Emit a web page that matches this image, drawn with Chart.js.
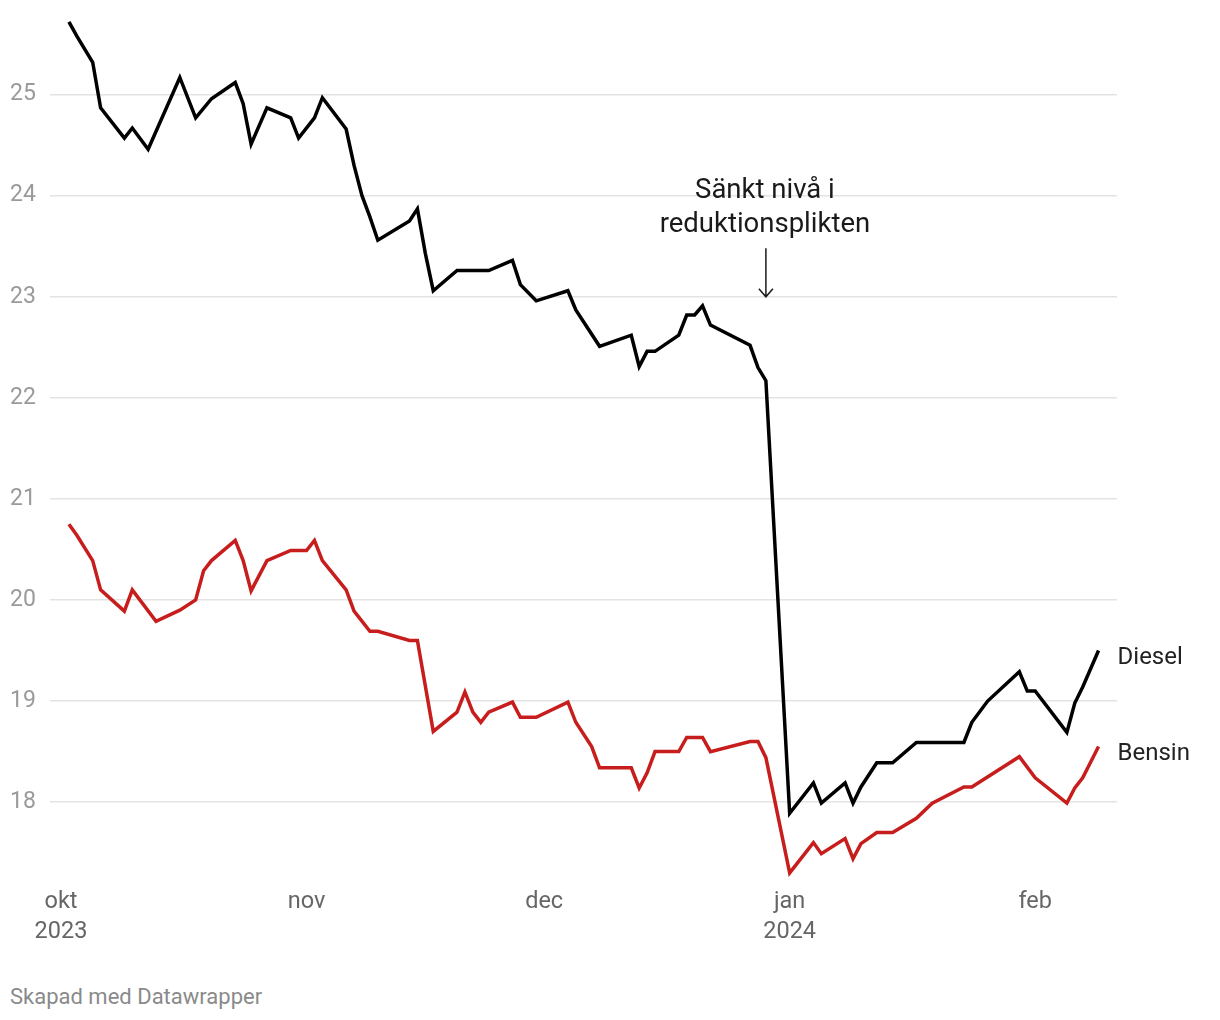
<!DOCTYPE html>
<html>
<head>
<meta charset="utf-8">
<script src="https://cdn.jsdelivr.net/npm/chart.js@4.4.0/dist/chart.umd.min.js"></script>
<style>
  html, body { margin: 0; padding: 0; background: #fff; }
  #wrap { position: relative; width: 1220px; height: 1020px; }
  #footer { position: absolute; left: 10px; top: 984px; font: 22px Roboto, sans-serif; line-height: 26px; color: #8a8a8a; }
</style>
</head>
<body>
<div id="wrap">
  <canvas id="c" width="1220" height="970"></canvas>
  <div id="footer">Skapad med Datawrapper</div>
</div>
<script>
// ---- data ----
const dieselDates = ['2023-10-02','2023-10-03','2023-10-05','2023-10-06','2023-10-09','2023-10-10','2023-10-12','2023-10-16','2023-10-18','2023-10-20','2023-10-23','2023-10-24','2023-10-25','2023-10-27','2023-10-30','2023-10-31','2023-11-02','2023-11-03','2023-11-06','2023-11-07','2023-11-08','2023-11-09','2023-11-10','2023-11-14','2023-11-15','2023-11-16','2023-11-17','2023-11-20','2023-11-24','2023-11-27','2023-11-28','2023-11-30','2023-12-04','2023-12-05','2023-12-08','2023-12-12','2023-12-13','2023-12-14','2023-12-15','2023-12-18','2023-12-19','2023-12-20','2023-12-21','2023-12-22','2023-12-27','2023-12-28','2023-12-29','2024-01-01','2024-01-04','2024-01-05','2024-01-08','2024-01-09','2024-01-10','2024-01-12','2024-01-14','2024-01-17','2024-01-23','2024-01-24','2024-01-26','2024-01-30','2024-01-31','2024-02-01','2024-02-05','2024-02-06','2024-02-07','2024-02-09'];
const dieselValues = [25.72,25.58,25.32,24.87,24.57,24.67,24.46,25.17,24.77,24.96,25.12,24.91,24.51,24.87,24.77,24.57,24.77,24.97,24.66,24.30,24.00,23.79,23.56,23.75,23.87,23.43,23.06,23.26,23.26,23.36,23.12,22.96,23.06,22.87,22.51,22.62,22.31,22.46,22.46,22.62,22.82,22.82,22.91,22.72,22.52,22.30,22.17,17.89,18.19,17.99,18.19,17.99,18.15,18.39,18.39,18.59,18.59,18.79,19.00,19.29,19.10,19.10,18.69,18.98,19.14,19.50];

const bensinDates = ['2023-10-02','2023-10-03','2023-10-05','2023-10-06','2023-10-09','2023-10-10','2023-10-13','2023-10-16','2023-10-18','2023-10-19','2023-10-20','2023-10-23','2023-10-24','2023-10-25','2023-10-27','2023-10-30','2023-11-01','2023-11-02','2023-11-03','2023-11-06','2023-11-07','2023-11-09','2023-11-10','2023-11-14','2023-11-15','2023-11-17','2023-11-20','2023-11-21','2023-11-22','2023-11-23','2023-11-24','2023-11-27','2023-11-28','2023-11-30','2023-12-04','2023-12-05','2023-12-07','2023-12-08','2023-12-12','2023-12-13','2023-12-14','2023-12-15','2023-12-18','2023-12-19','2023-12-21','2023-12-22','2023-12-27','2023-12-28','2023-12-29','2024-01-01','2024-01-04','2024-01-05','2024-01-08','2024-01-09','2024-01-10','2024-01-12','2024-01-14','2024-01-17','2024-01-19','2024-01-23','2024-01-24','2024-01-30','2024-02-01','2024-02-05','2024-02-06','2024-02-07','2024-02-09'];
const bensinValues = [20.75,20.64,20.39,20.10,19.89,20.10,19.79,19.90,20.00,20.29,20.39,20.59,20.39,20.09,20.39,20.49,20.49,20.59,20.39,20.10,19.89,19.69,19.69,19.60,19.60,18.70,18.89,19.09,18.89,18.79,18.89,18.99,18.84,18.84,18.99,18.79,18.55,18.34,18.34,18.14,18.29,18.50,18.50,18.64,18.64,18.50,18.60,18.60,18.44,17.30,17.60,17.49,17.64,17.44,17.59,17.70,17.70,17.84,17.99,18.15,18.15,18.45,18.24,17.99,18.14,18.24,18.55];

const monthTickDates = ['2023-10-01','2023-11-01','2023-12-01','2024-01-01','2024-02-01'];
const monthLabels = ['okt','nov','dec','jan','feb'];
const yearLabels = ['2023','','','2024',''];
const yTicks = [18,19,20,21,22,23,24,25];
const seriesNames = ['Diesel','Bensin'];
const annotationLines = ['Sänkt nivå i','reduktionsplikten'];
const annotationDate = '2023-12-29';
const annotationFrom = 23.48;
const annotationTo = 23.0;

// ---- helpers ----
const t0 = Date.UTC(2023, 9, 1);
function dayIdx(s) { return Math.round((Date.parse(s + 'T00:00:00Z') - t0) / 86400000); }
function toPoints(dates, vals) { return dates.map((d, i) => ({ x: dayIdx(d), y: vals[i] })); }
const monthTickIdx = monthTickDates.map(dayIdx);

const FONT = 'Roboto, "Noto Sans", sans-serif';

const endLabels = {
  id: 'endLabels',
  afterDatasetsDraw(chart) {
    const ctx = chart.ctx;
    ctx.save();
    ctx.font = '24px ' + FONT;
    ctx.fillStyle = '#222';
    ctx.textBaseline = 'middle';
    ctx.textAlign = 'left';
    chart.data.datasets.forEach((ds, i) => {
      const meta = chart.getDatasetMeta(i);
      const last = meta.data[meta.data.length - 1];
      ctx.fillText(ds.label, last.x + 19, last.y + 7);
    });
    // annotation
    const xs = chart.scales.x, ys = chart.scales.y;
    const ax = xs.getPixelForValue(dayIdx(annotationDate));
    const y1 = ys.getPixelForValue(annotationFrom);
    const y2 = ys.getPixelForValue(annotationTo);
    ctx.font = '27.5px ' + FONT;
    ctx.fillStyle = '#1a1a1a';
    ctx.textAlign = 'center';
    ctx.fillText(annotationLines[0], ax - 1, y1 - 57);
    ctx.fillText(annotationLines[1], ax - 1, y1 - 23);
    ctx.strokeStyle = '#1a1a1a';
    ctx.lineWidth = 1.5;
    ctx.beginPath();
    ctx.moveTo(ax, y1);
    ctx.lineTo(ax, y2);
    ctx.moveTo(ax - 7, y2 - 8);
    ctx.lineTo(ax, y2);
    ctx.lineTo(ax + 7, y2 - 8);
    ctx.stroke();
    ctx.restore();
  }
};

new Chart(document.getElementById('c'), {
  type: 'line',
  data: {
    datasets: [
      { label: seriesNames[0], data: toPoints(dieselDates, dieselValues), borderColor: '#000000', borderWidth: 3.5 },
      { label: seriesNames[1], data: toPoints(bensinDates, bensinValues), borderColor: '#c71e1d', borderWidth: 3.5 }
    ]
  },
  options: {
    responsive: false,
    animation: false,
    layout: { padding: { left: 10, right: 103, top: 13, bottom: 17 } },
    elements: { point: { radius: 0, hoverRadius: 0 }, line: { tension: 0, borderJoinStyle: 'miter', borderCapStyle: 'butt' } },
    plugins: { legend: { display: false }, tooltip: { enabled: false } },
    scales: {
      x: {
        type: 'linear',
        min: -1.39,
        max: 133.33,
        grid: { display: false },
        border: { display: false },
        afterBuildTicks(scale) { scale.ticks = monthTickIdx.map(v => ({ value: v })); },
        afterFit(scale) { scale.height = 70; },
        ticks: {
          autoSkip: false,
          maxRotation: 0,
          padding: -4,
          color: '#666',
          font: { family: FONT, size: 23.5, lineHeight: '30px' },
          callback(value) {
            const i = monthTickIdx.indexOf(value);
            if (i < 0) return '';
            return yearLabels[i] ? [monthLabels[i], yearLabels[i]] : monthLabels[i];
          }
        }
      },
      y: {
        min: 17.2,
        max: 25.8,
        border: { display: false },
        grid: { color: '#e3e3e3', lineWidth: 1.5, drawTicks: false },
        afterBuildTicks(scale) { scale.ticks = yTicks.map(v => ({ value: v })); },
        afterFit(scale) { scale.width = 40; },
        ticks: {
          crossAlign: 'far',
          padding: 0,
          color: '#9a9a9a',
          font: { family: FONT, size: 23 },
          callback(v) { return String(v); }
        }
      }
    }
  },
  plugins: [endLabels]
});
</script>
</body>
</html>
